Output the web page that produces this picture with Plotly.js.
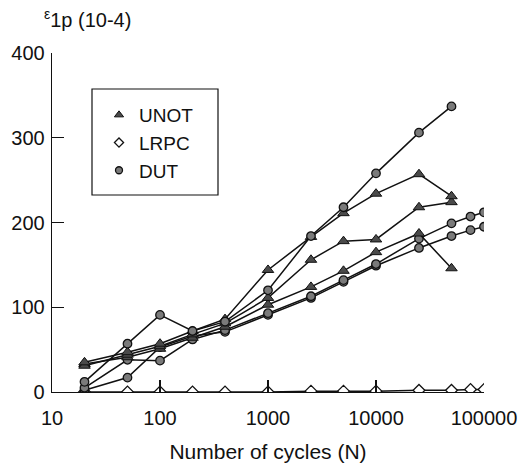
<!DOCTYPE html>
<html>
<head>
<meta charset="utf-8">
<script src="https://cdn.plot.ly/plotly-3.0.1.min.js"></script>
<style>html,body{margin:0;padding:0;background:#fff;}#chart{width:521px;height:470px;}</style>
</head>
<body>
<div id="chart"></div>
<script>
// Number of cycles
var cycles = [20, 50, 100, 200, 400, 1000, 2500, 5000, 10000, 25000, 50000, 75000, 100000];

// UNOT series (three specimens, up to 50000 cycles)
var unotA = [35, 47, 57, 72, 86, 144, 183, 211, 234, 257, 231];
var unotB = [31, 44, 54, 68, 81, 111, 156, 178, 180, 218, 224];
var unotC = [33, 41, 51, 64, 77, 103, 124, 143, 165, 187, 146];

// LRPC series
var lrpc = [0, 0, 0, 0, 0, 0, 1, 1, 1, 2, 2, 3, 3];

// DUT series
var dutA = [12, 57, 91, 72, 83, 120, 184, 218, 258, 306, 337];
var dutB = [5, 38, 37, 62, 73, 93, 113, 132, 151, 181, 199, 207, 212];
var dutC = [2, 17, 53, 66, 71, 91, 111, 130, 149, 170, 184, 191, 195];

var yTicks = [0, 100, 200, 300, 400];
var xTicks = [10, 100, 1000, 10000, 100000];
var xTickText = ['10', '100', '1000', '10000', '100000'];

var lineStyle = {color: '#111', width: 1.5};
var triMarker = {symbol: 'triangle-up', size: 10, color: '#4a4a4a', line: {color: '#111', width: 1}};
var cirMarker = {symbol: 'circle', size: 8.5, color: '#7a7a7a', line: {color: '#111', width: 1.3}};
var diaMarker = {symbol: 'diamond', size: 9, color: '#fff', line: {color: '#111', width: 1.3}};

function series(ys, marker, name) {
  return {x: cycles.slice(0, ys.length), y: ys, mode: 'lines+markers', line: lineStyle,
          marker: marker, name: name, legendgroup: name, showlegend: false, hoverinfo: 'x+y'};
}
function legendEntry(marker, name) {
  var m = JSON.parse(JSON.stringify(marker));
  m.size = Math.max(7, m.size - 2);
  return {x: [null], y: [null], mode: 'markers', marker: m, name: name, legendgroup: name, showlegend: true};
}

var data = [
  series(lrpc, diaMarker, 'LRPC'),
  series(dutC, cirMarker, 'DUT'),
  series(dutB, cirMarker, 'DUT'),
  series(unotC, triMarker, 'UNOT'),
  series(unotB, triMarker, 'UNOT'),
  series(unotA, triMarker, 'UNOT'),
  series(dutA, cirMarker, 'DUT'),
  legendEntry(triMarker, 'UNOT'),
  legendEntry(diaMarker, 'LRPC'),
  legendEntry(cirMarker, 'DUT')
];

var font = {family: 'Arial, "Liberation Sans", sans-serif', color: '#111', size: 20};

// plot area pixel helpers for the legend frame
var L = 52, T = 53, W = 432, H = 339;
function px(x) { return (x - L) / W; }
function py(y) { return (T + H - y) / H; }

var layout = {
  width: 521, height: 470,
  margin: {l: L, r: 521 - L - W, t: T, b: 470 - T - H},
  paper_bgcolor: '#fff', plot_bgcolor: '#fff',
  font: font,
  showlegend: true,
  legend: {x: px(99), y: py(96), xanchor: 'left', yanchor: 'top', bgcolor: 'rgba(0,0,0,0)',
           borderwidth: 0, font: {family: font.family, size: 19, color: '#111'},
           traceorder: 'normal', tracegroupgap: 0},
  xaxis: {type: 'log', range: [1, 5], tickvals: xTicks, ticktext: xTickText,
          ticks: 'inside', ticklen: 12, tickwidth: 1.2, tickcolor: '#111',
          showline: true, linecolor: '#111', linewidth: 1.3, showgrid: false, zeroline: false,
          ticklabelstandoff: 8,
          tickfont: {family: font.family, size: 20, color: '#111'},
          title: {text: 'Number of cycles (N)', font: {family: font.family, size: 21, color: '#111'}, standoff: 16}},
  yaxis: {range: [0, 400], tickvals: yTicks, ticks: 'inside', ticklen: 12, tickwidth: 1.2, tickcolor: '#111',
          showline: true, linecolor: '#111', linewidth: 1.3, showgrid: false, zeroline: false,
          ticklabelstandoff: 2,
          tickfont: {family: font.family, size: 20, color: '#111'}},
  shapes: [{type: 'rect', xref: 'paper', yref: 'paper', x0: px(92), x1: px(218), y0: py(195), y1: py(89),
            line: {color: '#111', width: 1.2}, fillcolor: 'rgba(0,0,0,0)', layer: 'below'}],
  annotations: [{
    text: '<sup>ε</sup>1p (10-4)', xref: 'paper', yref: 'paper', x: px(42), y: py(19),
    xanchor: 'left', yanchor: 'middle', showarrow: false,
    font: {family: font.family, size: 20, color: '#111'}
  }]
};

Plotly.newPlot('chart', data, layout, {displayModeBar: false, staticPlot: true});
</script>
</body>
</html>
